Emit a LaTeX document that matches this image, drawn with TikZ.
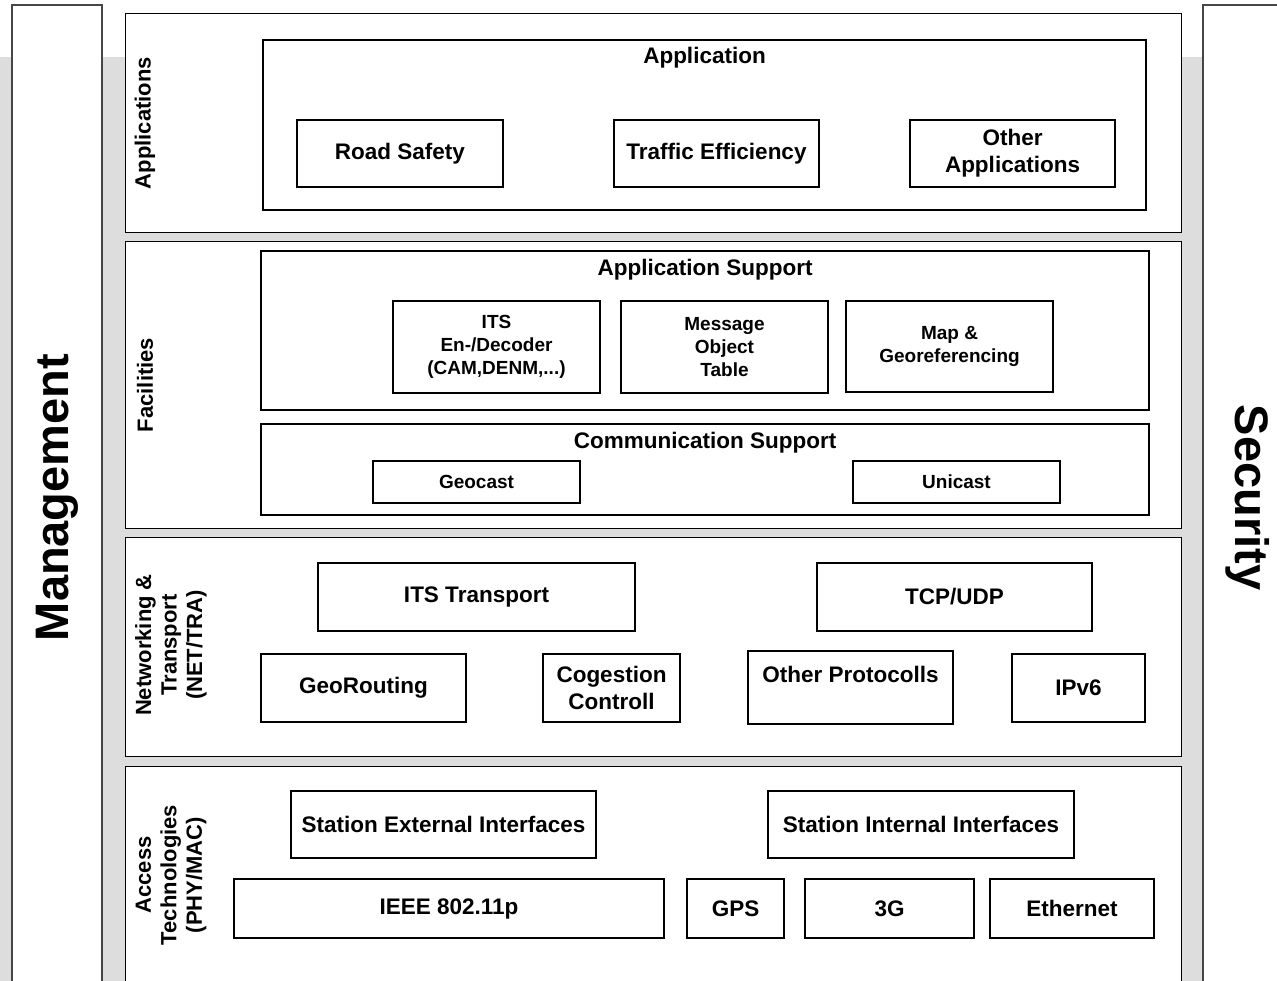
\documentclass[tikz,border=0pt]{standalone}
\usepackage{fontspec}
\setmainfont{Liberation Sans}
\definecolor{bandgray}{RGB}{220,221,220}
\definecolor{bardraw}{RGB}{70,70,70}

\tikzset{every picture/.style={line width=1pt}}

\begin{document}
\begin{tikzpicture}[x=1pt,y=1pt,yscale=-1,xscale=1,
  layer/.style={draw, line width=1.3pt, fill=white, inner sep=0pt},
  sidebar/.style={draw=bardraw, line width=1.3pt, fill=white, inner sep=0pt, font=\bfseries\fontsize{47}{50}\selectfont},
  box/.style={draw, line width=1.1pt, fill=white, inner sep=0pt, align=center, font=\bfseries\fontsize{22.5}{27}\selectfont},
  smallbox/.style={box, font=\bfseries\fontsize{19}{23}\selectfont},
  title/.style={font=\bfseries\fontsize{22.5}{27}\selectfont},
  side/.style={rotate=90, align=center, font=\bfseries\fontsize{22}{25.5}\selectfont}]
\useasboundingbox (0,0) rectangle (1277,980);
\clip (0,0) rectangle (1277,980);

%Background band
\fill [bandgray] (0,57) rectangle (1277,990);

%Side bars
\node [sidebar, rotate=90, minimum width=985, minimum height=90] (mgmt) at (57,497.5) {Management};
\node [sidebar, rotate=-90, minimum width=985, minimum height=90] (sec) at (1248,497.5) {Security};

%Layers
\node [layer, anchor=north west, minimum width=1056, minimum height=219] (applayer) at (125,13) {};
\node [layer, anchor=north west, minimum width=1056, minimum height=287] (faclayer) at (125,241) {};
\node [layer, anchor=north west, minimum width=1056, minimum height=219] (netlayer) at (125,537) {};
\node [layer, anchor=north west, minimum width=1056, minimum height=224] (acclayer) at (125,766) {};

% Layer names
\node [side] (appname) at (145,123) {Applications};
\node [side] (facname) at (145,385) {Facilities};
\node [side] (netname) at (171,645) {Networking \&\\Transport\\(NET/TRA)};
\node [side] (accname) at (171,875) {Access\\Technologies\\(PHY/MAC)};

%Applications
\node [box, minimum width=883, minimum height=170] (appbox) at (704.5,125) {};
\node [title] (apptitle) at (704.5,58) {Application};
\node [box, minimum width=206, minimum height=67] (roadsafety) at (400,153.5) {Road Safety};
\node [box, minimum width=205, minimum height=67] (traffic) at (716.5,153.5) {Traffic Efficiency};
\node [box, minimum width=205, minimum height=67] (otherapps) at (1012.5,153.5) {Other\\Applications};

%Facilities
\node [box, minimum width=888, minimum height=159] (suppbox) at (705,330.5) {};
\node [title] (supptitle) at (705,270) {Application Support};
\node [smallbox, minimum width=207, minimum height=92] (codec) at (496.5,347) {ITS\\En-/Decoder\\(CAM,DENM,...)};
\node [smallbox, minimum width=207, minimum height=92] (mot) at (724.5,347) {Message\\Object\\Table};
\node [smallbox, minimum width=207, minimum height=91] (mapgeo) at (949.5,346.5) {Map \&\\Georeferencing};
\node [box, minimum width=888, minimum height=91] (commbox) at (705,469.5) {};
\node [title] (commtitle) at (705,443) {Communication Support};
\node [smallbox, minimum width=207, minimum height=42] (geocast) at (476.5,482) {Geocast};
\node [smallbox, minimum width=207, minimum height=42] (unicast) at (956.5,482) {Unicast};

%Networking & Transport
\node [box, minimum width=317, minimum height=68] (itstransport) at (476.5,597) {ITS Transport};
\node [box, minimum width=275, minimum height=68] (tcpudp) at (954.5,597) {TCP/UDP};
\node [box, minimum width=205, minimum height=68] (georouting) at (363.5,688) {GeoRouting};
\node [box, minimum width=137, minimum height=68] (congestion) at (611.5,688) {Cogestion\\Controll};
\node [box, minimum width=205, minimum height=73] (otherproto) at (850.5,687.5) {};
\node [title] (otherprototxt) at (850.5,674) {Other Protocolls};
\node [box, minimum width=133, minimum height=68] (ipv6) at (1078.5,688) {IPv6};

%Access Technologies
\node [box, minimum width=305, minimum height=67] (stationext) at (443.5,824.5) {Station External Interfaces};
\node [box, minimum width=306, minimum height=67] (stationint) at (921,824.5) {Station Internal Interfaces};
\node [box, minimum width=430, minimum height=59] (ieee) at (449,908.5) {IEEE 802.11p};
\node [box, minimum width=97, minimum height=59] (gps) at (735.5,908.5) {GPS};
\node [box, minimum width=169, minimum height=59] (threeg) at (889.5,908.5) {3G};
\node [box, minimum width=164, minimum height=59] (ethernet) at (1072,908.5) {Ethernet};

\end{tikzpicture}
\end{document}
